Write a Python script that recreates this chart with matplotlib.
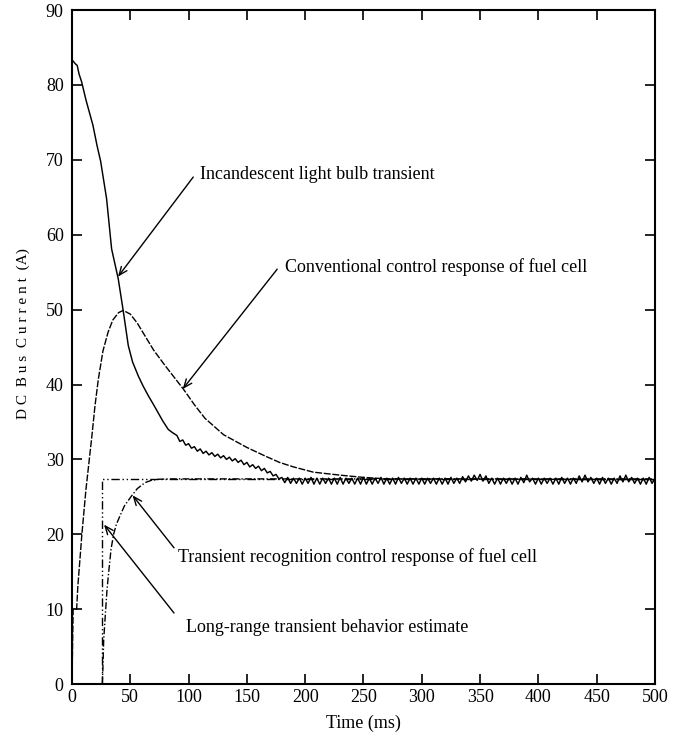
import matplotlib.pyplot as plt
import numpy as np

plt.rcParams['font.family'] = ['Liberation Serif', 'DejaVu Serif']

# incandescent light bulb transient (solid)
bulb_t_head = [0, 0, 0.3, 3, 4.5, 6, 8.3, 12, 15, 18, 21.5, 24.6, 29.7, 34, 39.7, 44,
               48.3, 52, 57, 61, 65.5, 70, 74, 78, 82.6, 86]
bulb_i_head = [0, 83.3, 83.3, 82.8, 82.6, 81.5, 80.4, 78, 76.3, 74.6, 71.9, 69.8, 64.8,
               58.1, 54.1, 49.8, 45.2, 43, 41.1, 39.8, 38.5, 37.3, 36.2, 35.1, 34.0, 33.6]
bulb_t_mid = np.arange(90, 178, 2.5)
bulb_i_mid = [33.2, 32.4, 32.6, 31.9, 32.1, 31.5, 31.7, 31.1, 31.4, 30.8, 31.1, 30.6,
              30.9, 30.4, 30.7, 30.2, 30.5, 30.0, 30.3, 29.8, 30.1, 29.6, 29.9, 29.3,
              29.6, 29.0, 29.3, 28.8, 29.1, 28.5, 28.8, 28.2, 28.4, 27.8, 28.0, 27.4]
bulb_t_tail = np.arange(180, 500.1, 2.5)
bulb_i_tail = [27.6, 26.9, 27.6, 26.8, 27.5, 26.8, 27.5, 26.7, 27.5, 26.8, 27.6, 26.7, 27.5, 26.7, 27.5, 26.8,
               27.5, 26.7, 27.5, 26.7, 27.6, 26.7, 27.5, 26.8, 27.5, 26.7, 27.5, 26.7, 27.6, 26.7, 27.5, 26.7,
               27.5, 26.8, 27.6, 26.7, 27.5, 26.7, 27.5, 26.7, 27.6, 26.8, 27.5, 26.7, 27.5, 26.7, 27.5, 26.7,
               27.5, 26.7, 27.5, 26.8, 27.5, 26.7, 27.5, 26.7, 27.5, 26.7, 27.6, 26.8, 27.5, 26.8, 27.7, 27.0,
               27.8, 27.1, 27.9, 27.2, 28.0, 27.1, 27.8, 26.8, 27.5, 26.7, 27.5, 26.7, 27.5, 26.8, 27.5, 26.7,
               27.5, 26.7, 27.6, 26.9, 27.9, 27.0, 27.5, 26.7, 27.5, 26.7, 27.5, 26.8, 27.5, 26.7, 27.5, 26.7,
               27.6, 26.8, 27.5, 26.7, 27.5, 26.8, 27.8, 27.0, 27.9, 27.0, 27.6, 26.8, 27.5, 26.7, 27.6, 26.8,
               27.5, 26.7, 27.5, 26.8, 27.8, 27.0, 27.9, 27.0, 27.6, 26.8, 27.5, 26.7, 27.5, 26.7, 27.6, 26.8,
               27.5]

# conventional control response (dashed)
conv_t = [0, 1, 4, 5, 8.5, 12, 17, 19.7, 22.6, 26.6, 31, 35, 40, 44, 50, 56, 62.6, 70, 80,
          88, 95.5, 105, 114, 130, 150, 165, 178, 190, 207, 230, 250, 270, 500]
conv_i = [0, 10, 10, 13, 20, 26, 33, 37.1, 40.7, 44.5, 47, 48.6, 49.6, 49.9, 49.4, 48.2,
          46.5, 44.6, 42.5, 40.9, 39.4, 37.3, 35.5, 33.3, 31.6, 30.5, 29.6, 29.0, 28.3,
          27.9, 27.6, 27.4, 27.3]

# transient recognition control response (dash-dot)
rec_t = [26, 26.5, 27.2, 28.5, 30, 31.4, 33.5, 35.7, 38, 41, 45, 51, 56, 62.6, 68, 74, 85, 500]
rec_i = [0, 2, 5.9, 9, 12.5, 14.8, 18, 20, 21.3, 22.4, 23.8, 25.1, 26.1, 26.9, 27.2, 27.35,
         27.4, 27.4]

# long-range transient behavior estimate
est_t = [26, 26, 500]
est_i = [0, 27.4, 27.4]

fig = plt.figure(figsize=(6.92, 7.42), dpi=100)
ax = fig.add_axes([0.104, 0.078, 0.8425, 0.9085])

ax.plot(est_t, est_i, color='black', lw=1, dashes=(6, 2, 1, 2, 1, 2))
ax.plot(rec_t, rec_i, color='black', lw=1, dashes=(5, 1.5, 1, 1.5))
ax.plot(conv_t, conv_i, color='black', lw=1, dashes=(5, 1.2))
bulb_t = list(bulb_t_head) + list(bulb_t_mid) + list(bulb_t_tail)
bulb_i = bulb_i_head + bulb_i_mid + bulb_i_tail
ax.plot(bulb_t, bulb_i, color='black', lw=1.05)

arrow = dict(arrowstyle='->,head_length=0.6,head_width=0.25', lw=1, color='black',
             shrinkA=0, shrinkB=0)
ax.annotate('', xy=(39.5, 54.4), xytext=(104, 67.7), arrowprops=arrow)
ax.text(110, 68, 'Incandescent light bulb transient', fontsize=13, va='center')
ax.annotate('', xy=(95, 39.4), xytext=(176, 55.4), arrowprops=arrow)
ax.text(183, 55.7, 'Conventional control response of fuel cell', fontsize=13, va='center')
ax.annotate('', xy=(52, 25.2), xytext=(87.5, 18.2), arrowprops=arrow)
ax.text(91, 17, 'Transient recognition control response of fuel cell', fontsize=13, va='center')
ax.annotate('', xy=(27.5, 21.3), xytext=(87.5, 9.5), arrowprops=arrow)
ax.text(98, 7.6, 'Long-range transient behavior estimate', fontsize=13, va='center')

ax.set_xlim(0, 500)
ax.set_ylim(0, 90)
ax.set_xticks(range(0, 501, 50))
ax.set_yticks(range(0, 91, 10))
ax.tick_params(direction='in', top=True, right=True, length=7, width=1.2, labelsize=13)
ax.tick_params(axis='y', pad=6)
for s in ax.spines.values():
    s.set_linewidth(1.5)
ax.set_xlabel('Time (ms)', fontsize=13, labelpad=6)
ax.set_ylabel('D C  B u s  C u r r e n t  (A)', fontsize=11)
ax.yaxis.set_label_coords(-0.072, 0.52)

fig.savefig('out.png', dpi=100)
